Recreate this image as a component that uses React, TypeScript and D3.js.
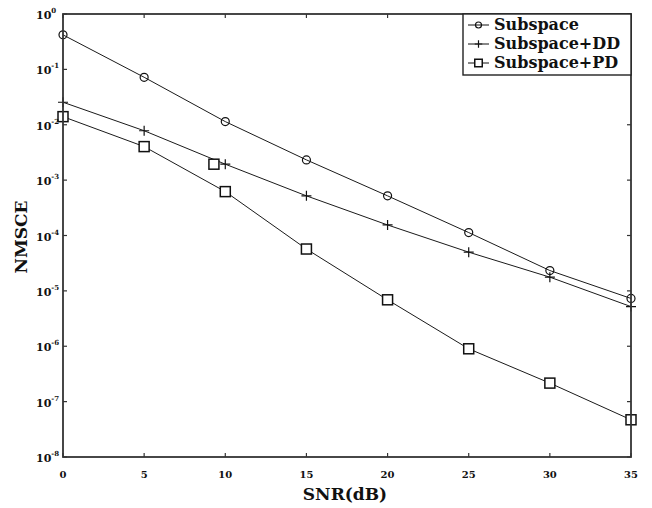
import React from "react";
import * as d3 from "d3";

const snr = [0, 5, 10, 15, 20, 25, 30, 35];
const subspace = [0.42, 0.072, 0.0114, 0.00232, 5.2e-4, 1.13e-4, 2.33e-5, 7.3e-6];
const subspaceDD = [0.0255, 0.0078, 0.00194, 5.2e-4, 1.55e-4, 5.0e-5, 1.77e-5, 5.2e-6];
const subspacePD = [0.014, 0.00403, 6.2e-4, 5.7e-5, 6.9e-6, 9.0e-7, 2.16e-7, 4.7e-8];
// a lone square marker that sits on the DD curve near 9.3 dB
const strayPD = [{ x: 9.3, y: 0.00194 }];
const xTicks = [0, 5, 10, 15, 20, 25, 30, 35];
const yExponents = [0, -1, -2, -3, -4, -5, -6, -7, -8];
const legendLabels = ["Subspace", "Subspace+DD", "Subspace+PD"];

const W = 652;
const H = 508;
const left = 63;
const right = 631;
const top = 14;
const bottom = 457;
const font = "'DejaVu Serif', 'Liberation Serif', serif";

const Marker = ({ kind, x, y, s = 1 }: { kind: string; x: number; y: number; s?: number }) => {
  if (kind === "circle")
    return <circle cx={x} cy={y} r={4 * s} fill="none" stroke="#111" strokeWidth={1.2} />;
  if (kind === "plus")
    return (
      <path
        d={`M${x - 5 * s},${y}H${x + 5 * s}M${x},${y - 5 * s}V${y + 5 * s}`}
        stroke="#111"
        strokeWidth={1.2}
      />
    );
  return (
    <rect
      x={x - 5 * s}
      y={y - 5 * s}
      width={10 * s}
      height={10 * s}
      fill="#fff"
      stroke="#111"
      strokeWidth={1.5}
    />
  );
};

export default function App() {
  const x = d3.scaleLinear().domain([0, 35]).range([left, right]);
  const y = d3.scaleLog().domain([1e-8, 1]).range([bottom, top]);

  const series = [
    { values: subspace, kind: "circle" },
    { values: subspaceDD, kind: "plus" },
    { values: subspacePD, kind: "square" },
  ];

  const line = d3
    .line<number>()
    .x((_, i) => x(snr[i]))
    .y((d) => y(d));

  const legX = 463;
  const legTop = top;
  const legRight = right;
  const legBottom = 75;

  return (
    <svg
      width={W}
      height={H}
      style={{ position: "absolute", left: 0, top: 0, background: "#fff" }}
    >
      <rect x={0} y={0} width={W} height={H} fill="#fff" />

      {/* ticks on all four sides, pointing in */}
      {xTicks.map((t) => (
        <g key={"xt" + t} stroke="#333" strokeWidth={1.2}>
          <line x1={x(t)} x2={x(t)} y1={bottom} y2={bottom - 4} />
          <line x1={x(t)} x2={x(t)} y1={top} y2={top + 4} />
        </g>
      ))}
      {yExponents.map((e) => (
        <g key={"yt" + e} stroke="#333" strokeWidth={1.2}>
          <line x1={left} x2={left + 4} y1={y(Math.pow(10, e))} y2={y(Math.pow(10, e))} />
          <line x1={right} x2={right - 4} y1={y(Math.pow(10, e))} y2={y(Math.pow(10, e))} />
        </g>
      ))}

      {/* data lines */}
      {series.map((s, k) => (
        <path key={"l" + k} d={line(s.values) || ""} fill="none" stroke="#1a1a1a" strokeWidth={1} />
      ))}
      {series.map((s, k) =>
        s.values.map((v, i) => (
          <Marker key={"m" + k + "-" + i} kind={s.kind} x={x(snr[i])} y={y(v)} />
        ))
      )}
      {strayPD.map((p, i) => (
        <Marker key={"s" + i} kind="square" x={x(p.x)} y={y(p.y)} />
      ))}

      {/* frame */}
      <rect
        x={left}
        y={top}
        width={right - left}
        height={bottom - top}
        fill="none"
        stroke="#333"
        strokeWidth={1.8}
      />

      {/* tick labels */}
      {xTicks.map((t) => (
        <text
          key={"xl" + t}
          x={x(t)}
          y={478}
          textAnchor="middle"
          fontFamily={font}
          fontWeight="bold"
          fontSize={10}
          fill="#111"
        >
          {t}
        </text>
      ))}
      {yExponents.map((e) => (
        <text
          key={"yl" + e}
          x={36}
          y={y(Math.pow(10, e)) + 5}
          fontFamily={font}
          fontWeight="bold"
          fontSize={11}
          fill="#111"
        >
          10
          <tspan dy={-6} fontSize={7}>
            {e}
          </tspan>
        </text>
      ))}

      {/* axis titles */}
      <text
        x={345}
        y={500}
        textAnchor="middle"
        fontFamily={font}
        fontWeight="bold"
        fontSize={17}
        fill="#111"
      >
        SNR(dB)
      </text>
      <text
        transform={`translate(27,${237}) rotate(-90)`}
        textAnchor="middle"
        fontFamily={font}
        fontWeight="bold"
        fontSize={17}
        fill="#111"
      >
        NMSCE
      </text>

      {/* legend */}
      <rect
        x={legX}
        y={legTop}
        width={legRight - legX}
        height={legBottom - legTop}
        fill="#fff"
        stroke="#222"
        strokeWidth={1.4}
      />
      {legendLabels.map((lab, i) => {
        const cy = 25 + i * 19;
        return (
          <g key={"lg" + i}>
            <line x1={468} x2={489} y1={cy} y2={cy} stroke="#111" strokeWidth={1} />
            <Marker kind={series[i].kind} x={478.5} y={cy} s={0.75} />
            <text
              x={494}
              y={cy + 5}
              fontFamily={font}
              fontWeight="bold"
              fontSize={16}
              fill="#111"
            >
              {lab}
            </text>
          </g>
        );
      })}
    </svg>
  );
}
